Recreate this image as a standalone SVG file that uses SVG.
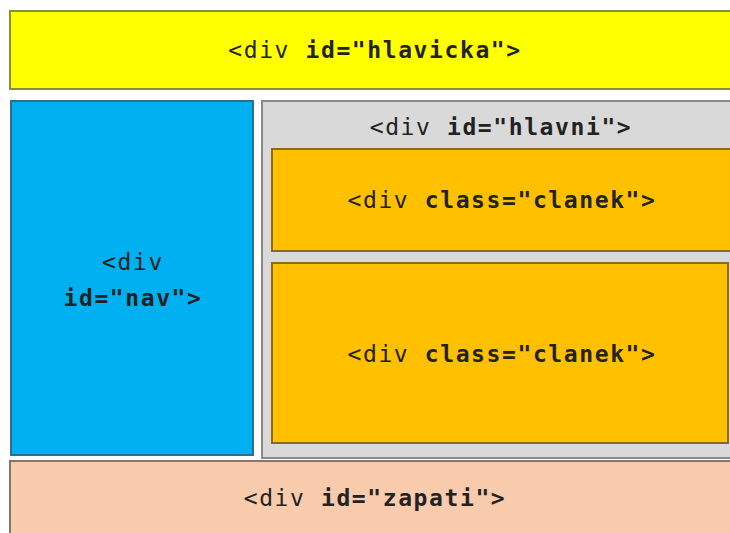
<svg xmlns="http://www.w3.org/2000/svg" width="730" height="533" viewBox="0 0 730 533">
<style>
.box{stroke-width:2}
.t{font-family:"DejaVu Sans Mono","Liberation Mono",monospace;font-size:23px;letter-spacing:1.6px;fill:#222;text-anchor:middle}
.b{font-weight:bold}
</style>
<rect width="730" height="533" fill="#ffffff"/>
<g id="hlavicka">
<rect class="box" x="10" y="11" width="725" height="78" fill="#FFFF00" stroke="#8c8c40"/>
<text class="t" x="375" y="58">&lt;div <tspan class="b">id="hlavicka"&gt;</tspan></text>
</g>
<g id="nav">
<rect class="box" x="11" y="101" width="242" height="354" fill="#00B0F0" stroke="#2a6f8c"/>
<text class="t" x="133" y="270">&lt;div</text>
<text class="t b" x="133" y="306">id="nav"&gt;</text>
</g>
<g id="hlavni">
<rect class="box" x="262" y="101" width="475" height="357" fill="#D9D9D9" stroke="#8a8a8a"/>
<text class="t" x="501" y="135">&lt;div <tspan class="b">id="hlavni"&gt;</tspan></text>
</g>
<g id="clanek1">
<rect class="box" x="272" y="149" width="460" height="102" fill="#FFC000" stroke="#8a6c20"/>
<text class="t" x="502" y="208">&lt;div <tspan class="b">class="clanek"&gt;</tspan></text>
</g>
<g id="clanek2">
<rect class="box" x="272" y="263" width="456" height="180" fill="#FFC000" stroke="#8a6c20"/>
<text class="t" x="502" y="362">&lt;div <tspan class="b">class="clanek"&gt;</tspan></text>
</g>
<g id="zapati">
<rect class="box" x="10" y="461" width="725" height="80" fill="#F8CBAD" stroke="#8a7464"/>
<text class="t" x="375" y="506">&lt;div <tspan class="b">id="zapati"&gt;</tspan></text>
</g>
<g id="connectors"/>
</svg>
